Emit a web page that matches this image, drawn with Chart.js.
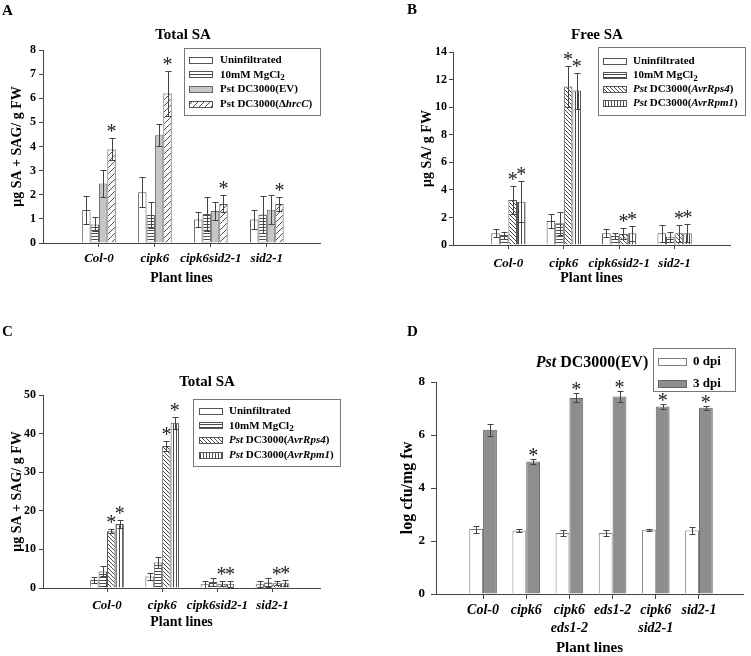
<!DOCTYPE html>
<html>
<head>
<meta charset="utf-8">
<script src="https://cdn.jsdelivr.net/npm/chart.js@4.4.1/dist/chart.umd.min.js"></script>
<style>
  html, body { margin: 0; padding: 0; background: #fff; }
  #wrap { position: relative; width: 751px; height: 656px; background: #fff; }
  canvas { position: absolute; }
</style>
</head>
<body>
<div id="wrap">
  <canvas id="chartA" width="375" height="320" style="left:0;top:0"></canvas>
  <canvas id="chartB" width="376" height="320" style="left:375px;top:0"></canvas>
  <canvas id="chartC" width="375" height="336" style="left:0;top:320px"></canvas>
  <canvas id="chartD" width="376" height="336" style="left:375px;top:320px"></canvas>
</div>
<script>
const SERIF = '"Liberation Serif", "Times New Roman", serif';

// plant lines
const lines4 = ['Col-0', 'cipk6', 'cipk6sid2-1', 'sid2-1'];
const lines6 = ['Col-0', 'cipk6', ['cipk6', 'eds1-2'], 'eds1-2', ['cipk6', 'sid2-1'], 'sid2-1'];

// A - Total SA (ug SA + SAG / g FW)
const aUninf = [1.37, 2.1, 0.97, 0.97];
const aUninfErr = [0.58, 0.62, 0.3, 0.38];
const aMg = [0.77, 1.16, 1.2, 1.18];
const aMgErr = [0.29, 0.54, 0.7, 0.75];
const aEV = [2.47, 4.47, 1.33, 1.38];
const aEVErr = [0.55, 0.45, 0.39, 0.59];
const aHrc = [3.88, 6.2, 1.62, 1.62];
const aHrcErr = [0.46, 0.95, 0.35, 0.3];
const aHrcStars = [1, 1, 1, 1];

// B - Free SA (ug SA / g FW)
const bUninf = [0.85, 1.74, 0.85, 0.85];
const bUninfErr = [0.3, 0.48, 0.3, 0.6];
const bMg = [0.72, 1.57, 0.65, 0.6];
const bMgErr = [0.25, 0.85, 0.24, 0.37];
const bRps4 = [3.26, 11.5, 0.8, 0.85];
const bRps4Err = [1.02, 1.5, 0.4, 0.6];
const bRpm1 = [3.14, 11.2, 0.85, 0.85];
const bRpm1Err = [1.47, 1.3, 0.53, 0.65];
const bStars = [1, 1, 1, 1];

// C - Total SA (ug SA + SAG / g FW)
const cUninf = [2.05, 3.0, 1.0, 1.0];
const cUninfErr = [0.85, 1.0, 0.9, 0.8];
const cMg = [4.3, 6.6, 1.55, 1.4];
const cMgErr = [1.3, 1.5, 1.1, 1.1];
const cRps4 = [14.7, 36.8, 1.1, 1.2];
const cRps4Err = [0.5, 1.4, 0.7, 0.5];
const cRpm1 = [16.6, 42.8, 1.1, 1.2];
const cRpm1Err = [1.0, 1.6, 0.8, 0.8];
const cStars = [1, 1, 1, 1];

// D - log cfu / mg fw
const d0dpi = [2.45, 2.39, 2.3, 2.3, 2.42, 2.4];
const d0dpiErr = [0.13, 0.05, 0.11, 0.1, 0.04, 0.13];
const d3dpi = [6.2, 5.0, 7.4, 7.45, 7.08, 7.03];
const d3dpiErr = [0.22, 0.1, 0.17, 0.2, 0.08, 0.07];
const d3dpiStars = [0, 1, 1, 1, 1, 1];

// legend texts: [text, style] where style is '' | 'i' | 'sub'
const legendA = [
  [['Uninfiltrated', '']],
  [['10mM MgCl', ''], ['2', 'sub']],
  [['Pst DC3000(EV)', '']],
  [['Pst DC3000(\u0394', ''], ['hrcC', 'i'], [')', '']]
];
const legendBC = [
  [['Uninfiltrated', '']],
  [['10mM MgCl', ''], ['2', 'sub']],
  [['Pst', 'i'], [' DC3000(', ''], ['AvrRps4', 'i'], [')', '']],
  [['Pst', 'i'], [' DC3000(', ''], ['AvrRpm1', 'i'], [')', '']]
];
const legendD = [[['0 dpi', '']], [['3 dpi', '']]];

// groups sit at x = 1, 2, 3 ... on a linear axis
const points = arr => arr.map((v, i) => ({ x: i + 1, y: v }));

function hatch(kind, step) {
  const c = document.createElement('canvas');
  c.width = step; c.height = step;
  const g = c.getContext('2d');
  g.fillStyle = '#fff';
  g.fillRect(0, 0, step, step);
  g.strokeStyle = '#4a4a4a';
  g.lineWidth = 1;
  g.beginPath();
  if (kind === 'h') { g.moveTo(0, step - 0.5); g.lineTo(step, step - 0.5); }
  if (kind === 'v') { g.moveTo(step - 0.5, 0); g.lineTo(step - 0.5, step); }
  if (kind === 'fwd') { g.moveTo(-1, step + 1); g.lineTo(step + 1, -1); }
  if (kind === 'back') { g.moveTo(-1, -1); g.lineTo(step + 1, step + 1); }
  g.stroke();
  return g.createPattern(c, 'repeat');
}

const patH = hatch('h', 3);
const patV = hatch('v', 3);
const patFwd = hatch('fwd', 6);
const patBack = hatch('back', 4);

function fontStr(style, size) {
  return (style === 'i' ? 'italic ' : '') + 'bold ' + size + 'px ' + SERIF;
}

function drawRich(ctx, segs, x, y, size, align) {
  let w = 0;
  segs.forEach(([t, s]) => {
    ctx.font = fontStr(s, s === 'sub' ? Math.round(size * 0.8) : size);
    w += ctx.measureText(t).width;
  });
  let cx = align === 'center' ? x - w / 2 : x;
  ctx.textAlign = 'left';
  ctx.textBaseline = 'middle';
  ctx.fillStyle = '#000';
  segs.forEach(([t, s]) => {
    const sz = s === 'sub' ? Math.round(size * 0.8) : size;
    ctx.font = fontStr(s, sz);
    ctx.fillText(t, cx, s === 'sub' ? y + size * 0.3 : y);
    cx += ctx.measureText(t).width;
  });
}

const decor = {
  chartA: {
    letter: 'A', letterX: 2, letterY: 4, starGap: 6,
    title: [['Total SA', '']], titleX: 183, titleY: 35, titleSize: 15,
    legend: { x: 184, y: 48, w: 136, h: 67, row0: 60, step: 14.7, swX: 189, swW: 24, swH: 7, textX: 220, size: 11, labels: legendA }
  },
  chartB: {
    letter: 'B', letterX: 32, letterY: 3, starGap: 6,
    title: [['Free SA', '']], titleX: 222, titleY: 35, titleSize: 15,
    legend: { x: 223, y: 47, w: 147, h: 68, row0: 61, step: 14, swX: 228, swW: 24, swH: 7, textX: 258, size: 11, labels: legendBC }
  },
  chartC: {
    letter: 'C', letterX: 2, letterY: 5, starGap: 6,
    title: [['Total SA', '']], titleX: 207, titleY: 62, titleSize: 15,
    legend: { x: 193, y: 79, w: 147, h: 67, row0: 91, step: 14.7, swX: 199, swW: 24, swH: 7, textX: 229, size: 11, labels: legendBC }
  },
  chartD: {
    letter: 'D', letterX: 32, letterY: 5, starGap: 3,
    title: [['Pst', 'i'], [' DC3000(EV)', '']], titleX: 217, titleY: 43, titleSize: 16,
    legend: { x: 278, y: 28, w: 82, h: 43, row0: 42, step: 22, swX: 283, swW: 29, swH: 8, textX: 318, size: 13, labels: legendD }
  }
};

const panelDecor = {
  id: 'panelDecor',
  afterDraw(chart) {
    const d = decor[chart.canvas.id];
    const ctx = chart.ctx;
    ctx.save();
    ctx.fillStyle = '#000';
    ctx.font = 'bold 15px ' + SERIF;
    ctx.textAlign = 'left';
    ctx.textBaseline = 'top';
    ctx.fillText(d.letter, d.letterX, d.letterY);
    drawRich(ctx, d.title, d.titleX, d.titleY, d.titleSize, 'center');
    const lg = d.legend;
    ctx.strokeStyle = '#777';
    ctx.lineWidth = 1;
    ctx.strokeRect(lg.x + 0.5, lg.y + 0.5, lg.w, lg.h);
    chart.data.datasets.forEach((ds, i) => {
      const cy = lg.row0 + i * lg.step;
      const sy = Math.round(cy - lg.swH / 2);
      ctx.fillStyle = ds.backgroundColor;
      ctx.fillRect(lg.swX, sy, lg.swW, lg.swH);
      ctx.strokeStyle = ds.borderColor;
      ctx.strokeRect(lg.swX + 0.5, sy + 0.5, lg.swW - 1, lg.swH - 1);
      drawRich(ctx, lg.labels[i], lg.textX, cy, lg.size, 'left');
    });
    ctx.restore();
  }
};

const errorBars = {
  id: 'errorBars',
  afterDatasetsDraw(chart) {
    const ctx = chart.ctx;
    const y = chart.scales.y;
    const gap = decor[chart.canvas.id].starGap;
    ctx.save();
    chart.data.datasets.forEach((ds, i) => {
      const meta = chart.getDatasetMeta(i);
      meta.data.forEach((bar, j) => {
        const v = ds.data[j].y;
        const e = ds.errors[j];
        const top = Math.round(y.getPixelForValue(v + e)) + 0.5;
        const bot = Math.round(y.getPixelForValue(Math.max(v - e, 0))) + 0.5;
        const x = Math.round(bar.x) + 0.5;
        ctx.strokeStyle = '#444';
        ctx.lineWidth = 1;
        ctx.beginPath();
        ctx.moveTo(x, top); ctx.lineTo(x, bot);
        ctx.moveTo(x - 3, top); ctx.lineTo(x + 3, top);
        ctx.moveTo(x - 3, bot); ctx.lineTo(x + 3, bot);
        ctx.stroke();
        if (ds.stars && ds.stars[j]) {
          ctx.fillStyle = '#222';
          ctx.font = '20px ' + SERIF;
          ctx.textAlign = 'center';
          ctx.textBaseline = 'middle';
          ctx.fillText('*', bar.x, top - gap);
        }
      });
    });
    ctx.restore();
  }
};

function series(label, data, errors, stars, fill, border, catPct) {
  return {
    label, data: points(data), errors, stars,
    backgroundColor: fill, borderColor: border, borderWidth: 1,
    categoryPercentage: catPct, barPercentage: 1
  };
}

function buildChart(id, cfg) {
  return new Chart(document.getElementById(id), {
    type: 'bar',
    data: { datasets: cfg.datasets },
    options: {
      responsive: false,
      animation: false,
      events: [],
      layout: { padding: { top: cfg.top, right: cfg.right, left: 0, bottom: 0 } },
      plugins: { legend: { display: false }, tooltip: { enabled: false } },
      scales: {
        x: {
          type: 'linear',
          min: cfg.xMin, max: cfg.xMax,
          offset: false,
          afterBuildTicks: s => { s.ticks = cfg.cats.map((c, i) => ({ value: i + 1 })); },
          grid: { offset: false, drawOnChartArea: false, tickLength: cfg.xTick, color: '#444' },
          border: { color: '#444' },
          ticks: {
            color: '#000', autoSkip: false, maxRotation: 0, padding: cfg.xLabelPad,
            callback: v => cfg.cats[v - 1],
            font: { family: SERIF, weight: 'bold', style: 'italic', size: cfg.xFont, lineHeight: 1.3 }
          },
          title: {
            display: true, text: 'Plant lines', color: '#000',
            font: { family: SERIF, weight: 'bold', size: cfg.xTitleFont, lineHeight: cfg.xTitleLh },
            padding: { top: 0, bottom: cfg.xTitlePad }
          },
          afterFit: s => { s.height = cfg.xHeight; }
        },
        y: {
          min: 0, max: cfg.yMax,
          grid: { drawOnChartArea: false, tickLength: cfg.yTick, color: '#444' },
          border: { color: '#444' },
          ticks: {
            stepSize: cfg.yStep, color: '#000', padding: cfg.yLabelPad,
            font: { family: SERIF, weight: 'bold', size: cfg.yFont }
          },
          title: {
            display: true, text: cfg.yTitle, color: '#000',
            font: { family: SERIF, weight: 'bold', size: cfg.yTitleFont },
            padding: { top: cfg.yTitlePad, bottom: 0 }
          },
          afterFit: s => { s.width = cfg.yWidth; }
        }
      }
    },
    plugins: [errorBars, panelDecor]
  });
}

buildChart('chartA', {
  cats: lines4, xMin: 0, xMax: 4.95,
  datasets: [
    series('Uninfiltrated', aUninf, aUninfErr, null, '#fff', '#555', 0.6),
    series('10mM MgCl2', aMg, aMgErr, null, patH, '#555', 0.6),
    series('Pst DC3000(EV)', aEV, aEVErr, null, '#c6c6c6', '#666', 0.6),
    series('Pst DC3000(hrcC)', aHrc, aHrcErr, aHrcStars, patFwd, '#555', 0.6)
  ],
  top: 50, right: 55, xHeight: 77, yWidth: 43,
  yMax: 8, yStep: 1, yTitle: '\u03bcg SA + SAG/ g FW',
  xFont: 13, xLabelPad: 3, xTick: 4, xTitleFont: 14, xTitleLh: 1.2, xTitlePad: 33,
  yFont: 12, yLabelPad: 3, yTick: 4, yTitleFont: 14, yTitlePad: 9
});

buildChart('chartB', {
  cats: lines4, xMin: 0, xMax: 5,
  datasets: [
    series('Uninfiltrated', bUninf, bUninfErr, null, '#fff', '#555', 0.62),
    series('10mM MgCl2', bMg, bMgErr, null, patH, '#555', 0.62),
    series('Pst DC3000(AvrRps4)', bRps4, bRps4Err, bStars, patBack, '#555', 0.62),
    series('Pst DC3000(AvrRpm1)', bRpm1, bRpm1Err, bStars, patV, '#555', 0.62)
  ],
  top: 52, right: 21, xHeight: 75, yWidth: 78,
  yMax: 14, yStep: 2, yTitle: '\u03bcg SA/ g FW',
  xFont: 13, xLabelPad: 6, xTick: 4, xTitleFont: 14, xTitleLh: 1.2, xTitlePad: 33,
  yFont: 12, yLabelPad: 2, yTick: 4, yTitleFont: 14, yTitlePad: 44
});

buildChart('chartC', {
  cats: lines4, xMin: -0.16, xMax: 4.86,
  datasets: [
    series('Uninfiltrated', cUninf, cUninfErr, null, '#fff', '#555', 0.61),
    series('10mM MgCl2', cMg, cMgErr, null, patH, '#555', 0.61),
    series('Pst DC3000(AvrRps4)', cRps4, cRps4Err, cStars, patBack, '#555', 0.61),
    series('Pst DC3000(AvrRpm1)', cRpm1, cRpm1Err, cStars, patV, '#555', 0.61)
  ],
  top: 75, right: 55, xHeight: 68, yWidth: 43,
  yMax: 50, yStep: 10, yTitle: '\u03bcg SA + SAG/ g FW',
  xFont: 13, xLabelPad: 5, xTick: 4, xTitleFont: 14, xTitleLh: 1.2, xTitlePad: 25,
  yFont: 12, yLabelPad: 3, yTick: 4, yTitleFont: 14, yTitlePad: 9
});

buildChart('chartD', {
  cats: lines6, xMin: -0.09, xMax: 7.02,
  datasets: [
    series('0 dpi', d0dpi, d0dpiErr, null, '#fff', '#808080', 0.64),
    series('3 dpi', d3dpi, d3dpiErr, d3dpiStars, '#8e8e8e', '#666', 0.64)
  ],
  top: 62, right: 8, xHeight: 62, yWidth: 61,
  yMax: 8, yStep: 2, yTitle: 'log cfu/mg fw',
  xFont: 14, xLabelPad: 2, xTick: 5, xTitleFont: 15, xTitleLh: 1.0, xTitlePad: 0,
  yFont: 13, yLabelPad: 6, yTick: 5, yTitleFont: 16, yTitlePad: 23
});
</script>
</body>
</html>
